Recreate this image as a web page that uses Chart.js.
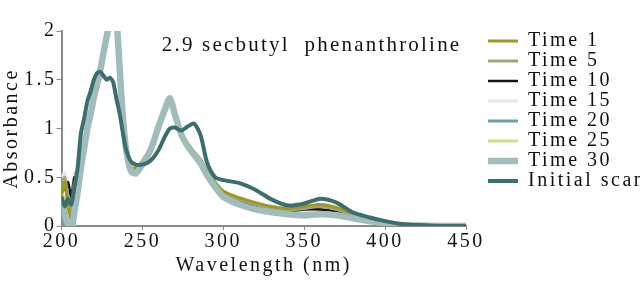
<!DOCTYPE html>
<html lang="en">
  <head>
    <meta charset="UTF-8" />
    <title>Absorbance</title>
    <script src="https://cdnjs.cloudflare.com/ajax/libs/Chart.js/4.4.1/chart.umd.min.js"></script>
    <style>
      html, body { margin: 0; padding: 0; background: #fff; overflow: hidden; }
      #box { width: 640px; height: 284px; }
    </style>
  </head>
  <body>
    <div id="box"><canvas id="grafico"></canvas></div>
  </body>
</html>

<script>
  // wavelength (nm)
  const wavelength = [200,202,204,206,208,210,212,214,216,218,220,222,224,226,228,230,232,234,236,238,240,243,246,250,255,260,264,267,270,274,278,282,286,290,295,300,310,320,330,340,350,360,370,380,390,400,410,420,435,450];

  const time1 = [0.3,0.45,0.2,0.08,0.4,0.38, 0.62,0.82,1.02,1.16,1.32,1.45,1.58,1.76,1.92,2.05,2.2,2.05,1.58,1.1,0.8,0.6,0.6,0.67,0.8,1.0,1.16,1.25,1.12,0.95,0.84,0.76,0.68,0.57,0.45,0.36, 0.29,0.24,0.2,0.18,0.2,0.22,0.19,0.13,0.08,0.05,0.02,0.01,0,0];
  const time5 = [0.35,0.5,0.3,0.15,0.45,0.42, 0.62,0.82,1.02,1.16,1.32,1.45,1.59,1.77,1.93,2.06,2.2,2.05,1.58,1.1,0.79,0.59,0.59,0.66,0.8,1.0,1.17,1.26,1.12,0.95,0.84,0.75,0.67,0.55,0.43,0.34, 0.27,0.22,0.18,0.16,0.18,0.2,0.17,0.12,0.07,0.04,0.015,0.005,0,0];
  const time10 = [0.35,0.38,0.45,0.3,0.5,0.46, 0.64,0.84,1.03,1.17,1.33,1.46,1.59,1.77,1.93,2.06,2.2,2.05,1.58,1.1,0.78,0.58,0.58,0.66,0.8,1.0,1.17,1.27,1.12,0.95,0.84,0.75,0.66,0.54,0.42,0.32, 0.25,0.2,0.17,0.15,0.17,0.17,0.15,0.11,0.07,0.04,0.015,0.005,0,0];
  const time15 = [0.5,0.55,0.4,0.3,0.55,0.5, 0.68,0.86,1.04,1.17,1.33,1.46,1.6,1.78,1.94,2.08,2.22,2.07,1.59,1.1,0.78,0.57,0.57,0.65,0.79,1.0,1.18,1.28,1.13,0.95,0.83,0.74,0.65,0.53,0.41,0.31, 0.24,0.19,0.16,0.14,0.15,0.16,0.14,0.1,0.06,0.03,0.01,0.005,0,0];
  const time20 = [0.1,0.0,-0.05,0.05,0.3,0.4, 0.6,0.8,1.0,1.15,1.32,1.45,1.6,1.78,1.95,2.1,2.25,2.1,1.6,1.1,0.78,0.56,0.55,0.64,0.79,1.01,1.19,1.3,1.15,0.95,0.83,0.74,0.65,0.53,0.41,0.3, 0.23,0.18,0.15,0.13,0.14,0.15,0.13,0.1,0.06,0.03,0.01,0.005,0,0];
  const time25 = [0.2,0.3,0.1,0.0,0.25,0.3, 0.58,0.78,0.99,1.15,1.31,1.44,1.58,1.76,1.93,2.07,2.22,2.07,1.59,1.1,0.79,0.58,0.58,0.66,0.8,1.0,1.17,1.28,1.13,0.95,0.84,0.75,0.66,0.54,0.42,0.33, 0.26,0.21,0.17,0.15,0.17,0.19,0.16,0.12,0.08,0.05,0.02,0.01,0,0];
  const time30 = [0.25,0.12,0.02,-0.05,0.15,0.35, 0.6,0.8,1.0,1.15,1.32,1.45,1.6,1.78,1.95,2.1,2.25,2.1,1.6,1.1,0.78,0.56,0.54,0.63,0.78,1.02,1.2,1.31,1.15,0.94,0.82,0.73,0.64,0.52,0.4,0.3, 0.22,0.17,0.14,0.12,0.11,0.12,0.11,0.08,0.05,0.03,0.01,0.005,0,0];
  const initialScan = [0.3,0.2,0.28,0.22,0.4,0.6, 0.95,1.1,1.28,1.38,1.5,1.57,1.58,1.54,1.5,1.52,1.47,1.3,1.15,0.95,0.78,0.66,0.63,0.63,0.67,0.78,0.92,1.0,1.01,0.98,1.02,1.05,0.93,0.65,0.5,0.47, 0.44,0.37,0.27,0.21,0.23,0.28,0.24,0.14,0.09,0.05,0.02,0.01,0,0];

  const seriesNames = ["Time 1", "Time 5", "Time 10", "Time 15", "Time 20", "Time 25", "Time 30", "Initial scan"];
  const seriesValues = [time1, time5, time10, time15, time20, time25, time30, initialScan];
  const cores = ["#9b9a27", "#a3a47b", "#151515", "#e9e9e9", "#6c9fa6", "#d5da8c", "#a2bcbb", "#3e6d6d"];
  const larguras = [3, 3, 2.5, 3, 3, 3, 6.5, 4];
  const ordem = [3, 3, 3, 3, 3, 3, 2, 1];

  const fonte = "'Liberation Serif', 'DejaVu Serif', serif";
  const espaco = "2.5px";

  // the scan is stretched sideways, so all text gets extra letter spacing
  const espacamento = {
    id: "espacamento",
    beforeLayout(chart) { chart.ctx.letterSpacing = espaco; },
    beforeDraw(chart) { chart.ctx.letterSpacing = espaco; },
  };

  const tituloInterno = {
    id: "tituloInterno",
    afterDatasetsDraw(chart) {
      const ctx = chart.ctx;
      const x = chart.scales.x.getPixelForValue(262);
      const y = chart.scales.y.getPixelForValue(1.85);
      ctx.save();
      ctx.font = "21px " + fonte;
      ctx.letterSpacing = "2.2px";
      ctx.fillStyle = "#111";
      ctx.textAlign = "left";
      ctx.textBaseline = "middle";
      ctx.fillText("2.9 secbutyl  phenanthroline", x, y);
      ctx.restore();
    },
  };

  const datasets = seriesNames.map((nome, i) => ({
    label: nome,
    data: wavelength.map((w, j) => ({ x: w, y: seriesValues[i][j] })),
    borderColor: cores[i],
    backgroundColor: cores[i],
    borderWidth: larguras[i],
    pointRadius: 0,
    tension: 0.25,
    fill: false,
    order: ordem[i],
  }));

  new Chart("grafico", {
    type: "line",
    data: { datasets: datasets },
    options: {
      responsive: true,
      maintainAspectRatio: false,
      animation: false,
      layout: { padding: { top: 31, right: 0, bottom: 6, left: 0 } },
      plugins: {
        tooltip: { enabled: false },
        legend: {
          position: "right",
          align: "start",
          maxWidth: 152,
          labels: {
            usePointStyle: true,
            pointStyle: "line",
            pointStyleWidth: 30,
            padding: 0,
            color: "#111",
            font: { family: fonte, size: 20 },
            sort: (a, b) => a.datasetIndex - b.datasetIndex,
          },
        },
      },
      scales: {
        x: {
          type: "linear",
          min: 200,
          max: 450,
          ticks: { stepSize: 50, color: "#111", font: { family: fonte, size: 20 }, padding: 0 },
          grid: { drawOnChartArea: false, drawTicks: true, tickLength: 4, color: "#8a8a8a" },
          border: { color: "#8a8a8a", width: 2 },
          title: { display: true, text: "Wavelength (nm)", color: "#111", font: { family: fonte, size: 20 }, padding: 0 },
        },
        y: {
          min: 0,
          max: 2,
          ticks: { stepSize: 0.5, color: "#111", font: { family: fonte, size: 20 }, padding: 0, callback: (v) => String(v) },
          grid: { drawOnChartArea: false, drawTicks: true, tickLength: 5, color: "#8a8a8a" },
          border: { color: "#8a8a8a", width: 2 },
          title: { display: true, text: "Absorbance", color: "#111", font: { family: fonte, size: 20 }, padding: 0 },
        },
        // empty right axis, only keeps a gap between the plot and the legend
        folga: {
          position: "right",
          display: true,
          ticks: { display: false },
          grid: { display: false },
          border: { display: false },
          afterFit: (s) => { s.width = 22; },
        },
      },
    },
    plugins: [espacamento, tituloInterno],
  });
</script>
